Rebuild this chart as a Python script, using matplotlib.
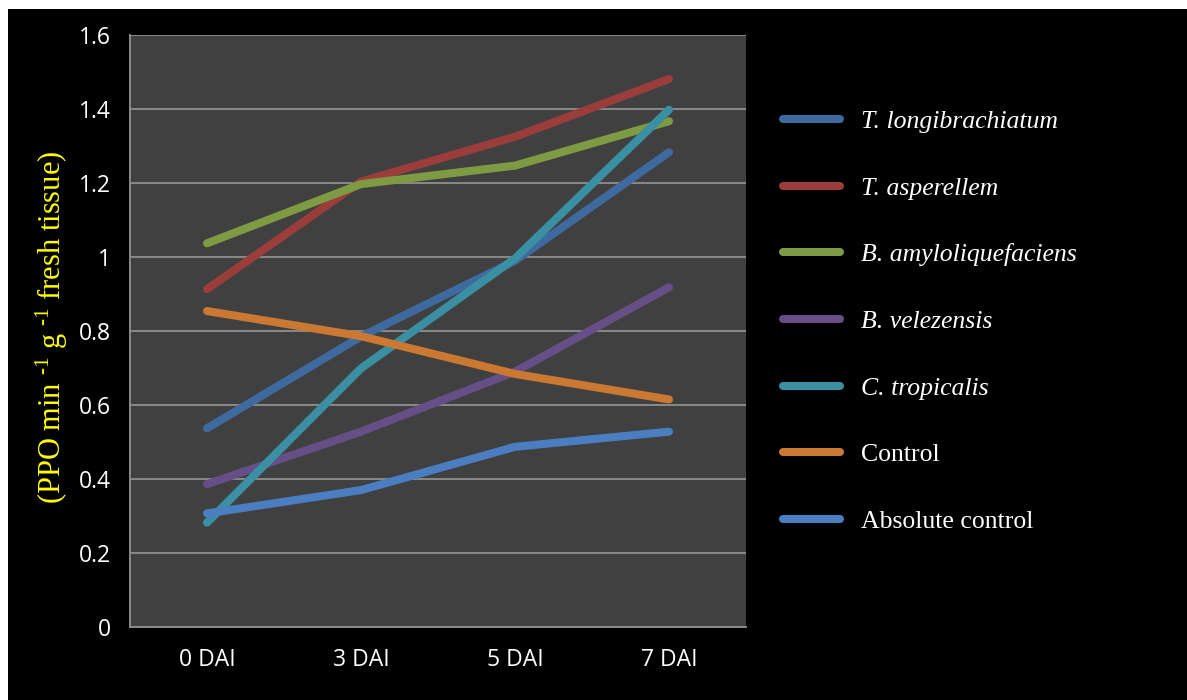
import matplotlib
matplotlib.use("Agg")
import matplotlib.pyplot as plt
from matplotlib.patches import Rectangle

# Sampling days and PPO activity per treatment
days = ["0 DAI", "3 DAI", "5 DAI", "7 DAI"]
t_longibrachiatum = [0.537, 0.785, 0.990, 1.283]
t_asperellem = [0.913, 1.204, 1.325, 1.481]
b_amyloliquefaciens = [1.037, 1.197, 1.247, 1.367]
b_velezensis = [0.386, 0.528, 0.690, 0.918]
c_tropicalis = [0.282, 0.699, 0.996, 1.398]
control = [0.854, 0.786, 0.684, 0.615]
absolute_control = [0.307, 0.370, 0.487, 0.528]

series_labels = ["T. longibrachiatum", "T. asperellem", "B. amyloliquefaciens",
                 "B. velezensis", "C. tropicalis", "Control", "Absolute control"]
series_values = [t_longibrachiatum, t_asperellem, b_amyloliquefaciens,
                 b_velezensis, c_tropicalis, control, absolute_control]
series_colors = ["#3E6A9F", "#9B3E3B", "#7E9B43", "#664E87", "#3A8FA3",
                 "#CB7833", "#4A7EC0"]
italic = [True, True, True, True, True, False, False]

y_ticks = [0, 0.2, 0.4, 0.6, 0.8, 1.0, 1.2, 1.4, 1.6]
y_tick_labels = ["0", "0.2", "0.4", "0.6", "0.8", "1", "1.2", "1.4", "1.6"]

plt.rcParams["mathtext.fontset"] = "custom"
plt.rcParams["mathtext.rm"] = "Liberation Serif"
plt.rcParams["mathtext.it"] = "Liberation Serif:italic"

W, H = 1187, 700
fig = plt.figure(figsize=(W / 100, H / 100), dpi=100, facecolor="white")
fig.patches.append(Rectangle((8 / W, 0), 1, 1 - 9 / H, transform=fig.transFigure,
                             facecolor="black", edgecolor="none", zorder=-10))

ax = fig.add_axes([130 / W, (H - 627) / H, 616 / W, 592 / H])
ax.set_facecolor("#404040")

x = range(len(days))
handles = []
for vals, lab, col in zip(series_values, series_labels, series_colors):
    (ln,) = ax.plot(x, vals, color=col, lw=5.8, solid_capstyle="round",
                    solid_joinstyle="round", label=lab, zorder=3)
    handles.append(ln)

ax.set_xlim(-0.5, len(days) - 0.5)
ax.set_ylim(0, 1.6)
ax.set_yticks(y_ticks)
ax.set_yticklabels(y_tick_labels)
ax.set_xticks(list(x))
ax.set_xticklabels(days)
ax.grid(axis="y", color="#8A8A8A", lw=1.4, zorder=1)
ax.set_axisbelow(True)
for s in ["top", "right"]:
    ax.spines[s].set_visible(False)
for s in ["left", "bottom"]:
    ax.spines[s].set_color("#8A8A8A")
    ax.spines[s].set_linewidth(1.4)
ax.tick_params(axis="both", length=0, colors="white", labelsize=16.5)
ax.tick_params(axis="y", pad=14)
ax.tick_params(axis="x", pad=15)
for t in ax.get_xticklabels() + ax.get_yticklabels():
    t.set_fontfamily("Open Sans")

fig.text(52 / W, 1 - 327 / H,
         r"(PPO min $^{\text{-}1}$ g $^{\text{-}1}$ fresh tissue)",
         rotation=90, color="#FFFF00", fontsize=22, family="Liberation Serif",
         ha="center", va="center")

leg = fig.legend(handles, series_labels, loc="upper left",
                 bbox_to_anchor=(783 / W, 1 - 110 / H), frameon=False,
                 prop={"family": "Liberation Serif", "size": 18.5},
                 handlelength=2.2, handletextpad=0.85, labelspacing=1.7,
                 borderpad=0, borderaxespad=0)
for txt, it in zip(leg.get_texts(), italic):
    txt.set_color("white")
    if it:
        txt.set_style("italic")
for lh in leg.get_lines():
    lh.set_linewidth(5.8)
    lh.set_solid_capstyle("round")

fig.savefig("out.png", dpi=100, facecolor=fig.get_facecolor())
